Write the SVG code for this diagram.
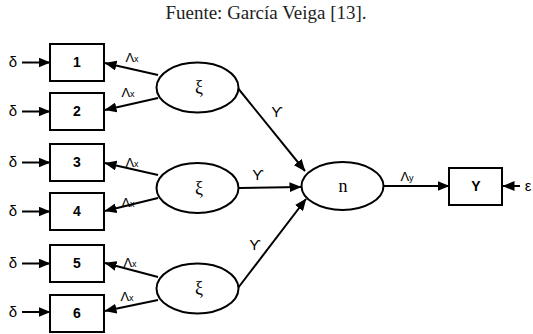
<svg xmlns="http://www.w3.org/2000/svg" width="533" height="334" viewBox="0 0 533 334">
<defs>
<marker id="ah" markerUnits="userSpaceOnUse" markerWidth="12" markerHeight="10" refX="11.5" refY="5" orient="auto">
<path d="M0,0 L12,5 L0,10 z" fill="#000"/>
</marker>
<style>
.box{fill:#fff;stroke:#000;stroke-width:2}
.ell{fill:#fff;stroke:#000;stroke-width:2}
.c{stroke:#000;stroke-width:2;fill:none}
.a{marker-end:url(#ah)}
.num{font-family:"Liberation Sans",Arial,sans-serif;font-weight:bold;font-size:14px;text-anchor:middle}
.sym{font-family:"Liberation Serif","DejaVu Serif",serif;font-size:18px;text-anchor:middle}
.lab{font-family:"Liberation Sans","DejaVu Sans",sans-serif;font-size:13px;text-anchor:middle}
.sub{font-size:9px}
</style>
</defs>
<rect width="533" height="334" fill="#fff"/>
<text x="266" y="19" font-family="'Liberation Serif','Times New Roman',serif" font-size="19" fill="#222" text-anchor="middle">Fuente: García Veiga [13].</text>

<g id="connectors">
<line class="c a" x1="22" y1="62.5" x2="50" y2="62.5"/>
<line class="c a" x1="22" y1="111.5" x2="50" y2="111.5"/>
<line class="c a" x1="22" y1="162.5" x2="50" y2="162.5"/>
<line class="c a" x1="22" y1="211.5" x2="50" y2="211.5"/>
<line class="c a" x1="22" y1="263.5" x2="50" y2="263.5"/>
<line class="c a" x1="22" y1="312" x2="50" y2="312"/>
<line class="c a" x1="158" y1="75" x2="105" y2="63"/>
<line class="c a" x1="158" y1="98" x2="105" y2="110"/>
<line class="c a" x1="158" y1="175" x2="105" y2="163"/>
<line class="c a" x1="158" y1="198" x2="105" y2="211"/>
<line class="c a" x1="158" y1="277" x2="105" y2="263"/>
<line class="c a" x1="158" y1="300" x2="105" y2="311"/>
<line class="c a" x1="237" y1="87" x2="305" y2="171"/>
<line class="c a" x1="239" y1="188" x2="301" y2="187"/>
<line class="c a" x1="238" y1="288" x2="306" y2="199"/>
<line class="c a" x1="384" y1="186" x2="449" y2="186"/>
<line class="c a" x1="520" y1="186" x2="503" y2="186"/>
<g class="lab">
<text x="132" y="62">Λ<tspan class="sub">x</tspan></text>
<text x="128" y="97">Λ<tspan class="sub">x</tspan></text>
<text x="132" y="167">Λ<tspan class="sub">x</tspan></text>
<text x="128" y="207">Λ<tspan class="sub">x</tspan></text>
<text x="130" y="267">Λ<tspan class="sub">x</tspan></text>
<text x="127" y="301">Λ<tspan class="sub">x</tspan></text>
<text x="407" y="181">Λ<tspan class="sub">y</tspan></text>
</g>
<g class="lab" style="font-size:15px">
<text x="277" y="117">ϒ</text>
<text x="258" y="180">ϒ</text>
<text x="255" y="250">ϒ</text>
</g>
<g class="lab" style="font-size:15px">
<text x="13" y="67">δ</text>
<text x="13" y="116">δ</text>
<text x="13" y="167">δ</text>
<text x="13" y="216">δ</text>
<text x="13" y="268">δ</text>
<text x="13" y="317">δ</text>
<text x="528" y="191">ε</text>
</g>
</g>

<g id="x1"><rect class="box" x="50" y="44" width="54" height="37"/><text class="num" x="77" y="67">1</text></g>
<g id="x2"><rect class="box" x="50" y="93" width="54" height="37"/><text class="num" x="77" y="116">2</text></g>
<g id="x3"><rect class="box" x="50" y="144" width="54" height="37"/><text class="num" x="77" y="167">3</text></g>
<g id="x4"><rect class="box" x="50" y="193" width="54" height="37"/><text class="num" x="77" y="216">4</text></g>
<g id="x5"><rect class="box" x="50" y="245" width="54" height="37"/><text class="num" x="77" y="268">5</text></g>
<g id="x6"><rect class="box" x="50" y="295" width="54" height="37"/><text class="num" x="77" y="318">6</text></g>

<g id="xi1"><ellipse class="ell" cx="197.5" cy="87.5" rx="41" ry="25"/><text class="sym" x="199" y="93">ξ</text></g>
<g id="xi2"><ellipse class="ell" cx="197.5" cy="188" rx="41" ry="25"/><text class="sym" x="199" y="194">ξ</text></g>
<g id="xi3"><ellipse class="ell" cx="197.5" cy="288.5" rx="41" ry="25"/><text class="sym" x="199" y="294">ξ</text></g>
<g id="eta"><ellipse class="ell" cx="342.5" cy="186" rx="41" ry="24"/><text class="sym" x="343" y="192">n</text></g>
<g id="y"><rect class="box" x="449" y="168" width="53" height="37"/><text class="num" x="476" y="191">Y</text></g>
</svg>
